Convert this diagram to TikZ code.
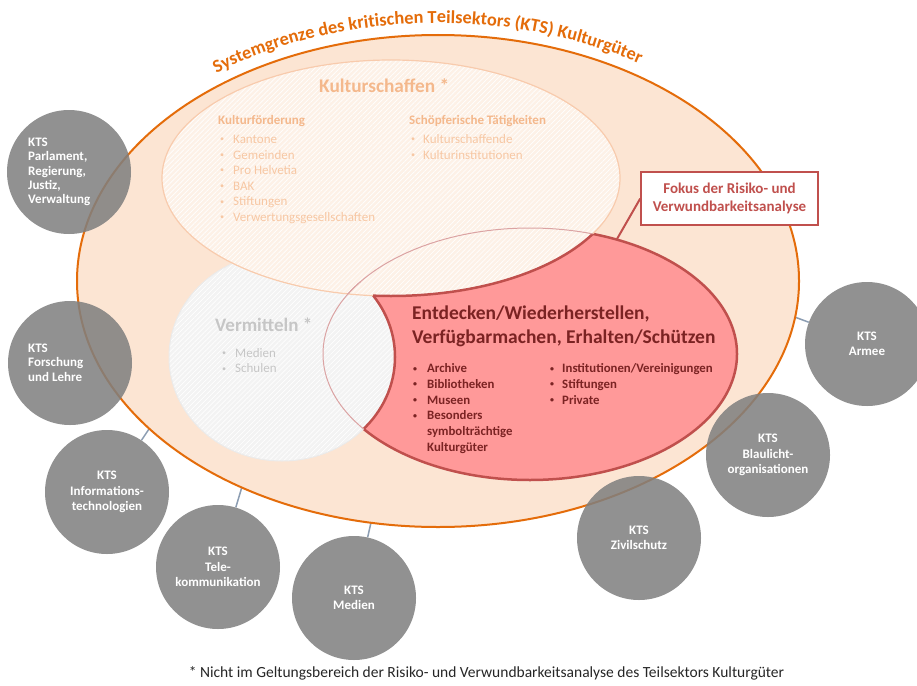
\documentclass[tikz,border=0pt]{standalone}
\usepackage{fontspec}
\setmainfont{Carlito}
\usetikzlibrary{decorations.text,patterns.meta}
\definecolor{peach}{HTML}{FCE5D3}
\definecolor{orng}{HTML}{E46C0A}
\definecolor{kultfill}{HTML}{FDF1E7}
\definecolor{kultline}{HTML}{F8CBAD}
\definecolor{kulttxt}{HTML}{F7C7A3}
\definecolor{kulthead}{HTML}{F4B88C}
\definecolor{vermfill}{HTML}{F3F3F3}
\definecolor{vermline}{HTML}{EBEBEB}
\definecolor{vermtxt}{HTML}{C6C6C6}
\definecolor{redfill}{HTML}{FF9999}
\definecolor{redline}{HTML}{C0504D}
\definecolor{redthin}{HTML}{DBA3A3}
\definecolor{redtxt}{HTML}{7B2323}
\definecolor{ktsgray}{HTML}{7F7F7F}
\definecolor{connc}{HTML}{8C9DB2}
\pgfdeclarelayer{bg}
\pgfsetlayers{bg,main}
\newcommand\bul[1]{\makebox[#1pt][l]{\raisebox{0.12em}{\scalebox{0.62}{•}}}}
\begin{document}
\begin{tikzpicture}[x=1pt,y=-1pt,
  kitem/.style={anchor=mid west, inner sep=0pt, text=kulttxt, font=\fontsize{13}{15}\selectfont},
  khead/.style={anchor=mid west, inner sep=0pt, text=kulthead, font=\bfseries\fontsize{13}{15}\selectfont},
  ktitle/.style={anchor=mid west, inner sep=0pt, text=kulthead, font=\bfseries\fontsize{19.3}{23}\selectfont},
  vitem/.style={anchor=mid west, inner sep=0pt, text=vermtxt, font=\fontsize{13}{15}\selectfont},
  vtitle/.style={anchor=mid west, inner sep=0pt, text=vermtxt, font=\bfseries\fontsize{19}{23}\selectfont},
  ritem/.style={anchor=mid west, inner sep=0pt, text=redtxt, font=\bfseries\fontsize{12.8}{15}\selectfont},
  rtitle/.style={anchor=mid west, inner sep=0pt, text=redtxt, font=\bfseries\fontsize{19.5}{24}\selectfont},
  kts/.style={circle, fill=ktsgray, fill opacity=0.86, text opacity=1, minimum size=124pt, inner sep=0pt,
    text=white, align=center, font=\bfseries\fontsize{13}{15.3}\selectfont},
  ktstxt/.style={inner sep=0pt, text=white, align=left, font=\bfseries\fontsize{13}{14.4}\selectfont},
  conn/.style={draw=connc, line width=1.5pt},
  fokbox/.style={draw=redline, line width=1.5pt, fill=white, minimum width=177pt, minimum height=53pt,
    inner sep=0pt, align=center, text=redline, font=\bfseries\fontsize{15}{18.5}\selectfont},
  hatch/.style={pattern={Lines[angle=45,distance=3.5pt,line width=0.7pt]}, pattern color=white}
]
\useasboundingbox (0,0) rectangle (917,685);
\begin{pgfonlayer}{bg}
\fill[white] (0,0) rectangle (917,685);
\end{pgfonlayer}

% outer system boundary
\coordinate (oc) at (438,281);
\fill[peach] (oc) ellipse [x radius=361, y radius=246];
\draw[orng, line width=2pt] (oc) ellipse [x radius=361, y radius=246];

% title along arc
\path[decorate, decoration={text along path, text align=center, text color=orng,
  text={|\bfseries\fontsize{18.3}{22}\selectfont|Systemgrenze des kritischen Teilsektors (KTS) Kulturgüter}}]
  (438,281) ++(222:374 and 258) arc[start angle=222, end angle=314, x radius=374, y radius=258];

% red focus ellipse
\fill[redfill] (530,354) ellipse [x radius=207, y radius=126];
\draw[redline, line width=2.5pt] (530,354) ellipse [x radius=207, y radius=126];

% Vermitteln
\fill[vermfill] (282,357) ellipse [x radius=113, y radius=104];
\fill[hatch] (282,357) ellipse [x radius=113, y radius=104];
\draw[vermline, line width=1pt] (282,357) ellipse [x radius=113, y radius=104];
\begin{scope}
  \clip (530,354) ellipse [x radius=207, y radius=126];
  \clip (0,296) rectangle (917,685);
  \draw[redline, line width=2.5pt] (282,357) ellipse [x radius=113, y radius=104];
\end{scope}

% Kulturschaffen
\fill[kultfill] (391,178) ellipse [x radius=229, y radius=118];
\fill[hatch] (391,178) ellipse [x radius=229, y radius=118];
\draw[kultline, line width=1.2pt] (391,178) ellipse [x radius=229, y radius=118];
\begin{scope}
  \clip (530,354) ellipse [x radius=207, y radius=126];
  \clip (373,0) rectangle (917,685);
  \draw[redline, line width=2.5pt] (391,178) ellipse [x radius=229, y radius=118];
\end{scope}

% thin outline of focus ellipse across the other two
\begin{scope}
  \clip (391,178) ellipse [x radius=229, y radius=118];
  \draw[redthin, line width=1pt] (530,354) ellipse [x radius=207, y radius=126];
\end{scope}
\begin{scope}
  \clip (282,357) ellipse [x radius=113, y radius=104];
  \draw[redthin, line width=1pt] (530,354) ellipse [x radius=207, y radius=126];
\end{scope}

% Kulturschaffen texts
\node[ktitle] (kt) at (319,90) {Kulturschaffen *};
\node[khead] (kh1) at (218,122) {Kulturförderung};
\node[kitem] (k1) at (220,141) {\bul{13}Kantone};
\node[kitem] (k2) at (220,157) {\bul{13}Gemeinden};
\node[kitem] (k3) at (220,172) {\bul{13}Pro Helvetia};
\node[kitem] (k4) at (220,188) {\bul{13}BAK};
\node[kitem] (k5) at (220,203.5) {\bul{13}Stiftungen};
\node[kitem] (k6) at (220,219) {\bul{13}Verwertungsgesellschaften};
\node[khead] (kh2) at (409,122) {Schöpferische Tätigkeiten};
\node[kitem] (k7) at (411,141) {\bul{12}Kulturschaffende};
\node[kitem] (k8) at (411,157) {\bul{12}Kulturinstitutionen};

% Vermitteln texts
\node[vtitle] (vt) at (215,329) {Vermitteln *};
\node[vitem] (v1) at (222,355) {\bul{13}Medien};
\node[vitem] (v2) at (222,370.5) {\bul{13}Schulen};

% focus texts
\node[rtitle] (rt1) at (412,317) {Entdecken/Wiederherstellen,};
\node[rtitle] (rt2) at (412,341) {Verfügbarmachen, Erhalten/Schützen};
\node[ritem] (r1) at (413,370.5) {\bul{14}Archive};
\node[ritem] (r2) at (413,386) {\bul{14}Bibliotheken};
\node[ritem] (r3) at (413,402) {\bul{14}Museen};
\node[ritem] (r4) at (413,417.5) {\bul{14}Besonders};
\node[ritem] (r5) at (427,433) {symbolträchtige};
\node[ritem] (r6) at (427,449) {Kulturgüter};
\node[ritem] (r7) at (550,370.5) {\bul{12}Institutionen/Vereinigungen};
\node[ritem] (r8) at (550,386) {\bul{12}Stiftungen};
\node[ritem] (r9) at (550,402) {\bul{12}Private};

% focus label
\node[fokbox] (fokus) at (729.5,198.5) {Fokus der Risiko- und\\Verwundbarkeitsanalyse};
\coordinate (fp) at (617,239);
\draw[redline, line width=2pt] (fokus.west) -- (fp);

% KTS circles
\node[kts] (parl) at (69,172) {};
\node[ktstxt, anchor=west] (parlT) at (28,172) {KTS\\Parlament,\\Regierung,\\Justiz,\\Verwaltung};
\node[kts] (fors) at (70,363) {};
\node[ktstxt, anchor=west] (forsT) at (28,362.5) {KTS\\Forschung\\und Lehre};
\node[kts] (it) at (107,492) {KTS\\Informations-\\technologien};
\node[kts] (tel) at (218,567) {KTS\\Tele-\\kommunikation};
\node[kts] (med) at (354,598) {KTS\\Medien};
\node[kts] (arm) at (867,344) {KTS\\Armee};
\node[kts] (blau) at (768,455) {KTS\\Blaulicht-\\organisationen};
\node[kts] (ziv) at (639,538) {KTS\\Zivilschutz};

% connectors (behind the boundary)
\coordinate (eIT) at (153,423);
\coordinate (eTel) at (244,480);
\coordinate (eMed) at (372,518);
\coordinate (eArm) at (792,316);
\begin{pgfonlayer}{bg}
\draw[conn] (it) -- (eIT);
\draw[conn] (tel) -- (eTel);
\draw[conn] (med) -- (eMed);
\draw[conn] (arm) -- (eArm);
\end{pgfonlayer}

% footnote
\node[inner sep=0pt, text=black!85, font=\fontsize{15.5}{18}\selectfont] (fn) at (486.5,673)
  {* Nicht im Geltungsbereich der Risiko- und Verwundbarkeitsanalyse des Teilsektors Kulturgüter};
\end{tikzpicture}
\end{document}
